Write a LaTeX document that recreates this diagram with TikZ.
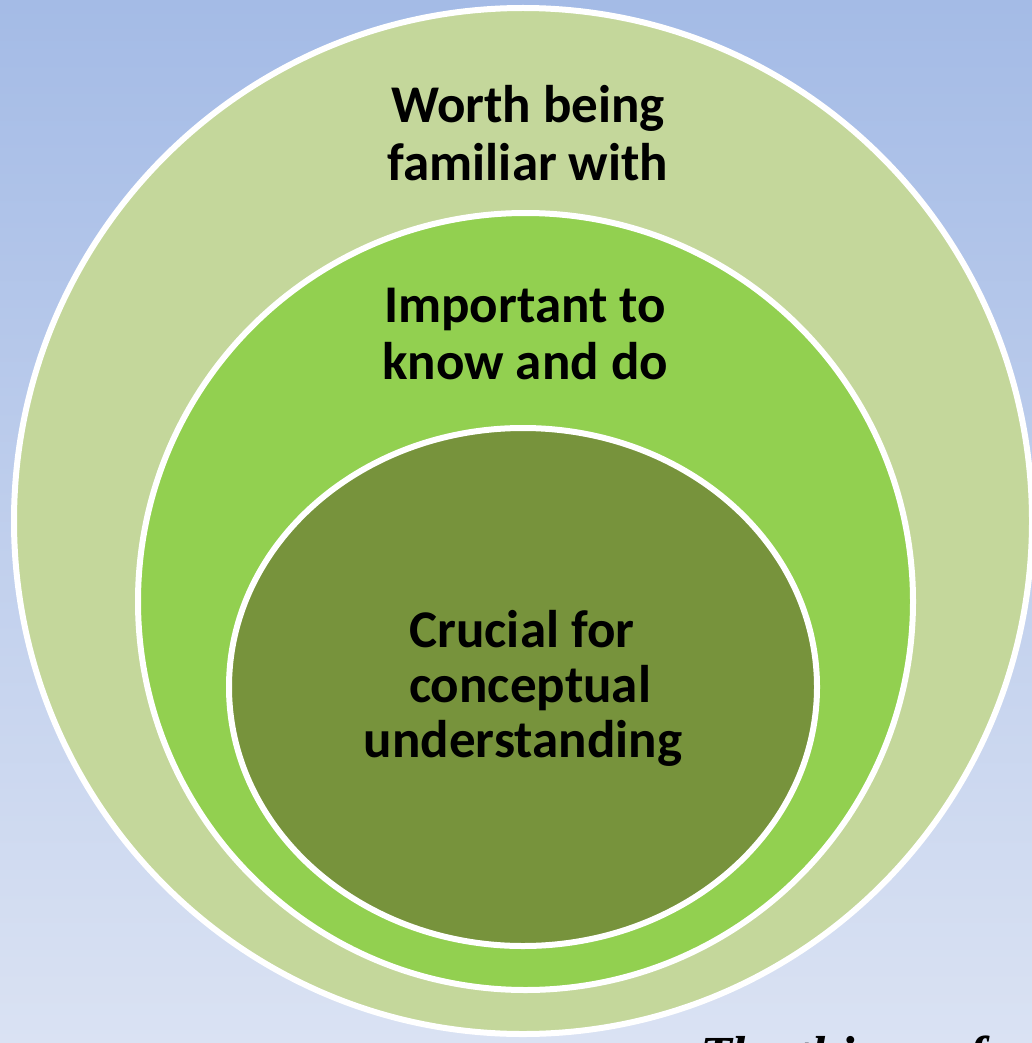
\documentclass[tikz,border=0pt]{standalone}
\usepackage{fontspec}
\setmainfont{Carlito}
\newfontfamily\serifbi{Liberation Serif}
\definecolor{bgtop}{RGB}{164,187,230}
\definecolor{bgbot}{RGB}{218,226,243}
\definecolor{ringouter}{RGB}{196,215,155}
\definecolor{ringmid}{RGB}{146,208,80}
\definecolor{ringinner}{RGB}{119,147,60}
\tikzset{
  ring/.style={draw=white, line width=6pt},
  lbl/.style={anchor=base, inner sep=0pt, font=\bfseries\fontsize{53}{58}\selectfont, text=black},
  foot/.style={anchor=base west, inner sep=0pt, font=\serifbi\bfseries\itshape\fontsize{52}{60}\selectfont, text=black}
}
\begin{document}
\begin{tikzpicture}[x=1pt,y=-1pt]
\useasboundingbox (0,0) rectangle (1032,1043);
\clip (0,0) rectangle (1032,1043);
\shade[top color=bgtop, bottom color=bgbot] (0,0) rectangle (1032,1043);
% rings
\filldraw[ring, fill=ringouter] (523,521) ellipse [x radius=509pt, y radius=513pt];
\filldraw[ring, fill=ringmid] (525.5,601.5) ellipse [x radius=387.5pt, y radius=388.5pt];
\filldraw[ring, fill=ringinner] (523,687) ellipse [x radius=294pt, y radius=259pt];
% labels
\node[lbl] (w1) at (528,123) {Worth being};
\node[lbl] (w2) at (528,180) {familiar with};
\node[lbl] (i1) at (525,322) {Important to};
\node[lbl] (i2) at (525,379) {know and do};
\node[lbl] (c1) at (522,647) {Crucial for};
\node[lbl] (c2) at (530,702) {conceptual};
\node[lbl] (c3) at (523,757) {understanding};
\node[foot] (ft) at (700,1072) {The things of};
\end{tikzpicture}
\end{document}
